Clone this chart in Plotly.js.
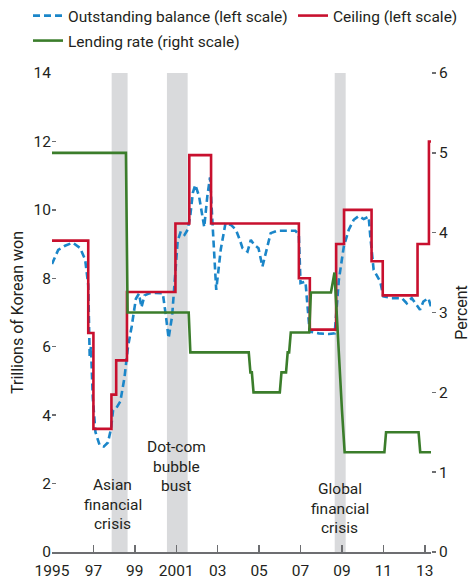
<!DOCTYPE html>
<html>
<head>
<meta charset="utf-8">
<script src="https://cdn.plot.ly/plotly-3.0.1.min.js"></script>
<style>html,body{margin:0;padding:0;background:#fff;}#chart{width:473px;height:588px;}</style>
</head>
<body>
<div id="chart"></div>
<script>
// ---- Data ----
var balanceYears = [1995.0,1995.3,1995.63,1996.0,1996.35,1996.6,1996.75,1996.82,1996.88,1996.97,1997.1,1997.3,1997.5,1997.7,1997.85,1997.95,1998.1,1998.3,1998.5,1998.67,1998.85,1999.05,1999.2,1999.32,1999.47,1999.7,2000.0,2000.35,2000.5,2000.63,2000.8,2000.95,2001.07,2001.22,2001.4,2001.55,2001.68,2001.8,2001.92,2002.1,2002.35,2002.5,2002.63,2002.76,2002.93,2003.15,2003.38,2003.64,2003.88,2004.07,2004.2,2004.44,2004.6,2004.76,2004.97,2005.16,2005.4,2005.56,2005.88,2006.3,2006.75,2006.92,2007.0,2007.24,2007.44,2007.88,2008.37,2008.65,2008.85,2009.09,2009.33,2009.57,2009.81,2010.05,2010.29,2010.37,2010.53,2010.85,2011.0,2011.41,2011.89,2012.13,2012.37,2012.77,2012.93,2013.17,2013.3];
var balanceValues = [8.42,8.83,8.95,9.04,8.89,8.55,7.8,5.7,6.0,4.5,3.5,3.12,3.08,3.2,3.6,4.15,4.2,4.4,5.1,6.0,6.6,7.4,7.55,7.15,7.5,7.56,7.57,7.56,6.9,6.25,6.9,8.1,9.1,9.37,9.27,9.42,9.85,10.5,10.73,10.4,9.5,10.4,10.95,9.5,7.66,8.85,9.62,9.56,9.42,9.12,8.88,8.78,9.12,8.98,8.88,8.34,8.93,9.32,9.39,9.39,9.39,9.27,7.86,7.9,6.44,6.39,6.37,6.39,7.95,8.93,9.42,9.71,9.82,9.73,9.8,9.22,8.25,7.9,7.47,7.42,7.42,7.27,7.42,7.08,7.32,7.42,7.17];

var ceilingYears  = [1995.0,1996.75,1997.0,1997.87,1998.1,1998.62,2000.96,2001.63,2002.68,2006.92,2007.45,2008.72,2009.1,2010.43,2010.97,2012.65,2013.2,2013.3];
var ceilingValues = [9.1,6.4,3.6,4.6,5.6,7.6,9.6,11.6,9.6,8.0,6.5,9.0,10.0,8.5,7.5,9.0,12.0,12.0];

var rateYears  = [1995.0,1998.57,1998.65,2001.6,2001.68,2004.5,2004.58,2004.65,2004.73,2006.0,2006.08,2006.3,2006.38,2006.45,2006.53,2007.42,2007.5,2008.47,2008.64,2008.85,2009.0,2009.13,2011.05,2011.13,2012.7,2012.78,2013.35];
var rateValues = [5.0,5.0,3.0,3.0,2.5,2.5,2.25,2.25,2.0,2.0,2.25,2.25,2.5,2.5,2.75,2.75,3.25,3.25,3.5,2.45,1.78,1.25,1.25,1.5,1.5,1.25,1.25];

var crisisStart = [1997.88, 2000.55, 2008.65];
var crisisEnd   = [1998.65, 2001.55, 2009.18];
var crisisLabels = [["Asian","financial","crisis"],["Dot-com","bubble","bust"],["Global","financial","crisis"]];

var xTickVals  = [1995,1997,1999,2001,2003,2005,2007,2009,2011,2013];
var xTickTexts = ["1995","97","99","2001","03","05","07","09","11","13"];

// ---- Styling ----
var FONT = "Roboto, 'Liberation Sans', sans-serif";
var TXT = '#231f20';
var AX = '#6d6e71';

var traces = [
  {x: balanceYears, y: balanceValues, name: 'Outstanding balance (left scale)', type: 'scatter', mode: 'lines',
   line: {color: '#1b86c9', width: 2.6, dash: '7px,4px'}, legend: 'legend'},
  {x: ceilingYears, y: ceilingValues, name: 'Ceiling (left scale)', type: 'scatter', mode: 'lines',
   line: {color: '#c8102e', width: 2.6, shape: 'hv'}, legend: 'legend3'},
  {x: rateYears, y: rateValues, name: 'Lending rate (right scale)', type: 'scatter', mode: 'lines', yaxis: 'y2',
   line: {color: '#3b7d2b', width: 2.6}, legend: 'legend2'}
];

var shapes = crisisStart.map(function(s, i) {
  return {type: 'rect', xref: 'x', yref: 'y', x0: s, x1: crisisEnd[i], y0: 0, y1: 14,
          fillcolor: '#d9dadc', line: {width: 0}, layer: 'below'};
});

var labelCenters = [[1997.93, 1.95], [2001.0, 3.06], [2008.9, 1.83]];
var annotations = [];
crisisLabels.forEach(function(lines, i) {
  lines.forEach(function(t, j) {
    annotations.push({x: labelCenters[i][0], y: labelCenters[i][1] - j * 0.57, xref: 'x', yref: 'y',
      text: t, showarrow: false, xanchor: 'center', yanchor: 'middle',
      font: {family: FONT, size: 15.5, color: TXT}});
  });
});

var legendBase = {orientation: 'h', xref: 'container', yref: 'container', xanchor: 'left', yanchor: 'middle',
  bgcolor: 'rgba(0,0,0,0)', font: {family: FONT, size: 15.5, color: TXT}, itemwidth: 30, tracegroupgap: 0};

var layout = {
  width: 473, height: 588,
  margin: {l: 52, r: 42, t: 73, b: 36, pad: 0},
  paper_bgcolor: '#fff', plot_bgcolor: '#fff',
  font: {family: FONT, size: 15.5, color: TXT},
  showlegend: true,
  legend: Object.assign({}, legendBase, {x: 28/473, y: 1 - 16/588}),
  legend3: Object.assign({}, legendBase, {x: 293/473, y: 1 - 16/588}),
  legend2: Object.assign({}, legendBase, {x: 28/473, y: 1 - 41/588}),
  xaxis: {range: [1995, 2013.3], tickmode: 'array', tickvals: xTickVals, ticktext: xTickTexts,
    ticks: 'inside', ticklen: 7, tickwidth: 1.5, tickcolor: AX, showline: true, linecolor: AX, linewidth: 1.5,
    showgrid: false, zeroline: false, ticklabelstandoff: 4, tickfont: {family: FONT, size: 15.5, color: TXT}},
  yaxis: {range: [0, 14], tickmode: 'linear', tick0: 0, dtick: 2, ticks: 'inside', ticklen: 4, tickwidth: 1.5,
    tickcolor: AX, showline: false, showgrid: false, zeroline: false,
    tickfont: {family: FONT, size: 15.5, color: TXT},
    title: {text: 'Trillions of Korean won', font: {family: FONT, size: 16, color: TXT}, standoff: 5}},
  yaxis2: {range: [0, 6], overlaying: 'y', side: 'right', tickmode: 'linear', tick0: 0, dtick: 1,
    ticks: 'outside', ticklen: 4, tickwidth: 1.5, tickcolor: AX, showline: false, showgrid: false, zeroline: false,
    tickfont: {family: FONT, size: 15.5, color: TXT},
    title: {text: 'Percent', font: {family: FONT, size: 16, color: TXT}, standoff: 8}},
  shapes: shapes,
  annotations: annotations
};

Plotly.newPlot('chart', traces, layout, {displayModeBar: false, staticPlot: true});
</script>
</body>
</html>
